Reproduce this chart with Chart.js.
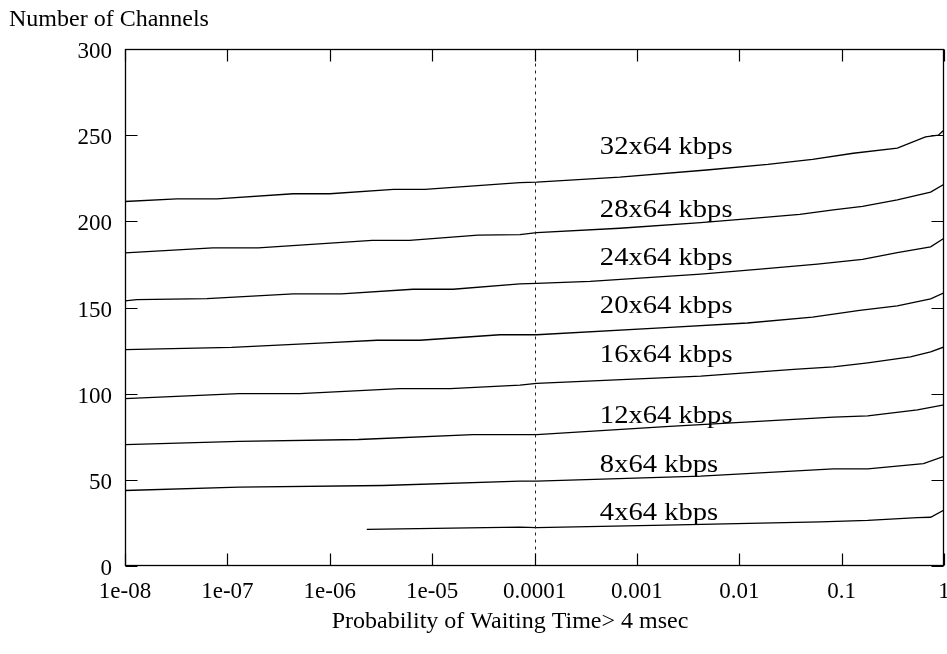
<!DOCTYPE html>
<html>
<head>
<meta charset="utf-8">
<script src="https://cdn.jsdelivr.net/npm/chart.js@4.4.1/dist/chart.umd.min.js"></script>
<style>
html,body{margin:0;padding:0;background:#fff;}
#wrap{width:947px;height:654px;position:relative;}
</style>
</head>
<body>
<div id="wrap"><canvas id="c" width="947" height="654"></canvas></div>
<script>
// ---- data ----
const xTickValues = [1e-8, 1e-7, 1e-6, 1e-5, 1e-4, 1e-3, 1e-2, 1e-1, 1];
const xTickLabels = ["1e-08", "1e-07", "1e-06", "1e-05", "0.0001", "0.001", "0.01", "0.1", "1"];
const yTickValues = [0, 50, 100, 150, 200, 250, 300];

const seriesNames = ["32x64 kbps", "28x64 kbps", "24x64 kbps", "20x64 kbps", "16x64 kbps", "12x64 kbps", "8x64 kbps", "4x64 kbps"];

const x32 = [1e-8, 3.2e-8, 7.9e-8, 4.4e-7, 1e-6, 4.2e-6, 8.5e-6, 7.2e-5, 1.05e-4, 6.8e-4, 4.8e-3, 1.9e-2, 5.2e-2, 0.13, 0.35, 0.66, 0.88, 1];
const y32 = [211.5, 213, 213, 216, 216, 218.5, 218.5, 222.5, 222.7, 225.6, 229.8, 233, 236, 239.5, 242.5, 249, 250, 253];

const x28 = [1e-8, 7.2e-8, 2.0e-7, 2.6e-6, 6.0e-6, 2.8e-5, 7.2e-5, 1.05e-4, 6.8e-4, 4.2e-3, 1.35e-2, 3.9e-2, 8.3e-2, 0.16, 0.35, 0.74, 1];
const y28 = [181.7, 184.6, 184.6, 189, 189, 192, 192.3, 193.5, 196, 199.2, 201.7, 204, 206.7, 208.7, 212.5, 217, 221.5];

const x24 = [1e-8, 1.3e-8, 6.3e-8, 4.4e-7, 1.3e-6, 6.5e-6, 1.6e-5, 7.2e-5, 1.05e-4, 3.5e-4, 4.2e-3, 1.6e-2, 5.8e-2, 0.16, 0.35, 0.74, 1];
const y24 = [153.9, 154.6, 155.2, 157.9, 157.9, 160.6, 160.6, 163.7, 164, 165.2, 169.4, 172.3, 175.2, 177.9, 181.9, 185.2, 190.2];

const x20 = [1e-8, 1.1e-7, 1e-6, 2.9e-6, 7.6e-6, 4.6e-5, 1.05e-4, 1.9e-3, 1.2e-2, 5.2e-2, 0.15, 0.35, 0.74, 1];
const y20 = [125.6, 126.9, 129.6, 131, 131, 134.2, 134.2, 138.3, 141, 144.4, 148.3, 151, 155, 158.5];

const x16 = [1e-8, 1.3e-7, 5.1e-7, 4.8e-6, 1.5e-5, 7.2e-5, 1.05e-4, 4.2e-3, 3.4e-2, 8.3e-2, 0.18, 0.47, 0.74, 1];
const y16 = [97.1, 100, 100, 102.9, 102.9, 105, 106, 110.2, 114.1, 115.5, 117.9, 121.3, 124.2, 127.1];

const x12 = [1e-8, 1.3e-7, 1.9e-6, 2.5e-5, 1.05e-4, 1.9e-3, 8.3e-2, 0.18, 0.55, 1];
const y12 = [70.4, 72.3, 73.4, 76.2, 76.2, 80.9, 86.4, 87.1, 90.6, 93.5];

const x8 = [1e-8, 1.3e-7, 3.3e-6, 7.2e-5, 1.05e-4, 4.2e-3, 8.3e-2, 0.18, 0.63, 1];
const y8 = [43.8, 45.8, 46.7, 49.2, 49.2, 52.1, 56.4, 56.4, 59.4, 63.6];

const x4 = [2.3e-6, 7.2e-5, 1.05e-4, 1.9e-3, 6.2e-2, 0.18, 0.55, 0.74, 1];
const y4 = [21.3, 22.5, 22.3, 23.7, 25.6, 26.5, 28.1, 28.3, 32.5];

// curve label anchors (data coordinates: left x, baseline y)
const labelX = 4.35e-4;
const labelY = [239.1, 202.5, 174.7, 146.8, 118.4, 83.0, 54.5, 26.7];

const markerX = 1e-4; // dashed vertical line

const xTitle = "Probability of Waiting Time> 4 msec";
const yTitle = "Number of Channels";

// ---- chart ----
const allX = [x32, x28, x24, x20, x16, x12, x8, x4];
const allY = [y32, y28, y24, y20, y16, y12, y8, y4];

const datasets = seriesNames.map((name, i) => ({
  label: name,
  data: allX[i].map((x, j) => ({x: x, y: allY[i][j]})),
  borderColor: '#000',
  borderWidth: 1.3,
  pointRadius: 0,
  tension: 0,
  fill: false
}));

const FONT = '"Liberation Serif", "Times New Roman", serif';

const decor = {
  id: 'decor',
  afterDraw(chart) {
    const ctx = chart.ctx;
    const a = chart.chartArea;
    const xs = chart.scales.x, ys = chart.scales.y;
    const L = Math.round(a.left) + 0.5, R = Math.round(a.right) - 0.5;
    const T = Math.round(a.top) + 0.5, B = Math.round(a.bottom) - 0.5;
    ctx.save();
    // dashed marker line
    const mx = Math.round(xs.getPixelForValue(markerX)) + 0.5;
    ctx.strokeStyle = '#222';
    ctx.lineWidth = 1;
    ctx.setLineDash([3, 4]);
    ctx.beginPath(); ctx.moveTo(mx, T); ctx.lineTo(mx, B); ctx.stroke();
    ctx.setLineDash([]);
    // frame
    ctx.strokeStyle = '#000';
    ctx.lineWidth = 1.3;
    ctx.strokeRect(L, T, R - L, B - T);
    // inward ticks
    const tl = 12;
    ctx.lineWidth = 1.2;
    ctx.beginPath();
    xTickValues.forEach(v => {
      const px = Math.round(xs.getPixelForValue(v)) + 0.5;
      ctx.moveTo(px, B); ctx.lineTo(px, B - tl);
      ctx.moveTo(px, T); ctx.lineTo(px, T + tl);
    });
    yTickValues.forEach(v => {
      const py = Math.round(ys.getPixelForValue(v)) + 0.5;
      ctx.moveTo(L, py); ctx.lineTo(L + tl, py);
      ctx.moveTo(R, py); ctx.lineTo(R - tl, py);
    });
    ctx.stroke();
    // curve labels
    ctx.fillStyle = '#000';
    ctx.textAlign = 'left';
    ctx.textBaseline = 'alphabetic';
    ctx.font = '26px ' + FONT;
    const lx = xs.getPixelForValue(labelX);
    seriesNames.forEach((name, i) => {
      const ly = ys.getPixelForValue(labelY[i]);
      ctx.save();
      ctx.translate(lx, ly);
      ctx.scale(1.1, 1);
      ctx.fillText(name, 0, 0);
      ctx.restore();
    });
    // axis titles
    ctx.font = '24px ' + FONT;
    ctx.textAlign = 'left';
    ctx.fillText(yTitle, 9, 26);
    ctx.textAlign = 'center';
    ctx.fillText(xTitle, 510, 628);
    ctx.restore();
  }
};

new Chart(document.getElementById('c'), {
  type: 'line',
  data: { datasets: datasets },
  options: {
    responsive: false,
    animation: false,
    events: [],
    layout: { padding: { top: 49, right: 3, left: 0, bottom: 0 } },
    plugins: { legend: { display: false }, tooltip: { enabled: false } },
    scales: {
      x: {
        type: 'logarithmic',
        min: 1e-8,
        max: 1,
        afterBuildTicks(scale) { scale.ticks = xTickValues.map(v => ({ value: v })); },
        afterFit(scale) { scale.height = 88; scale.paddingLeft = 0; scale.paddingRight = 0; },
        grid: { display: false, drawTicks: false },
        border: { display: false },
        ticks: {
          autoSkip: false,
          maxRotation: 0,
          padding: 12,
          color: '#000',
          font: { family: FONT, size: 23 },
          callback: (v, i) => xTickLabels[i]
        }
      },
      y: {
        type: 'linear',
        min: 0,
        max: 300,
        afterBuildTicks(scale) { scale.ticks = yTickValues.map(v => ({ value: v })); },
        afterFit(scale) { scale.width = 125; scale.paddingTop = 0; scale.paddingBottom = 0; },
        grid: { display: false, drawTicks: false },
        border: { display: false },
        ticks: {
          padding: 13,
          labelOffset: 3,
          color: '#000',
          font: { family: FONT, size: 23 },
          callback: (v) => String(v)
        }
      }
    }
  },
  plugins: [decor]
});
</script>
</body>
</html>
